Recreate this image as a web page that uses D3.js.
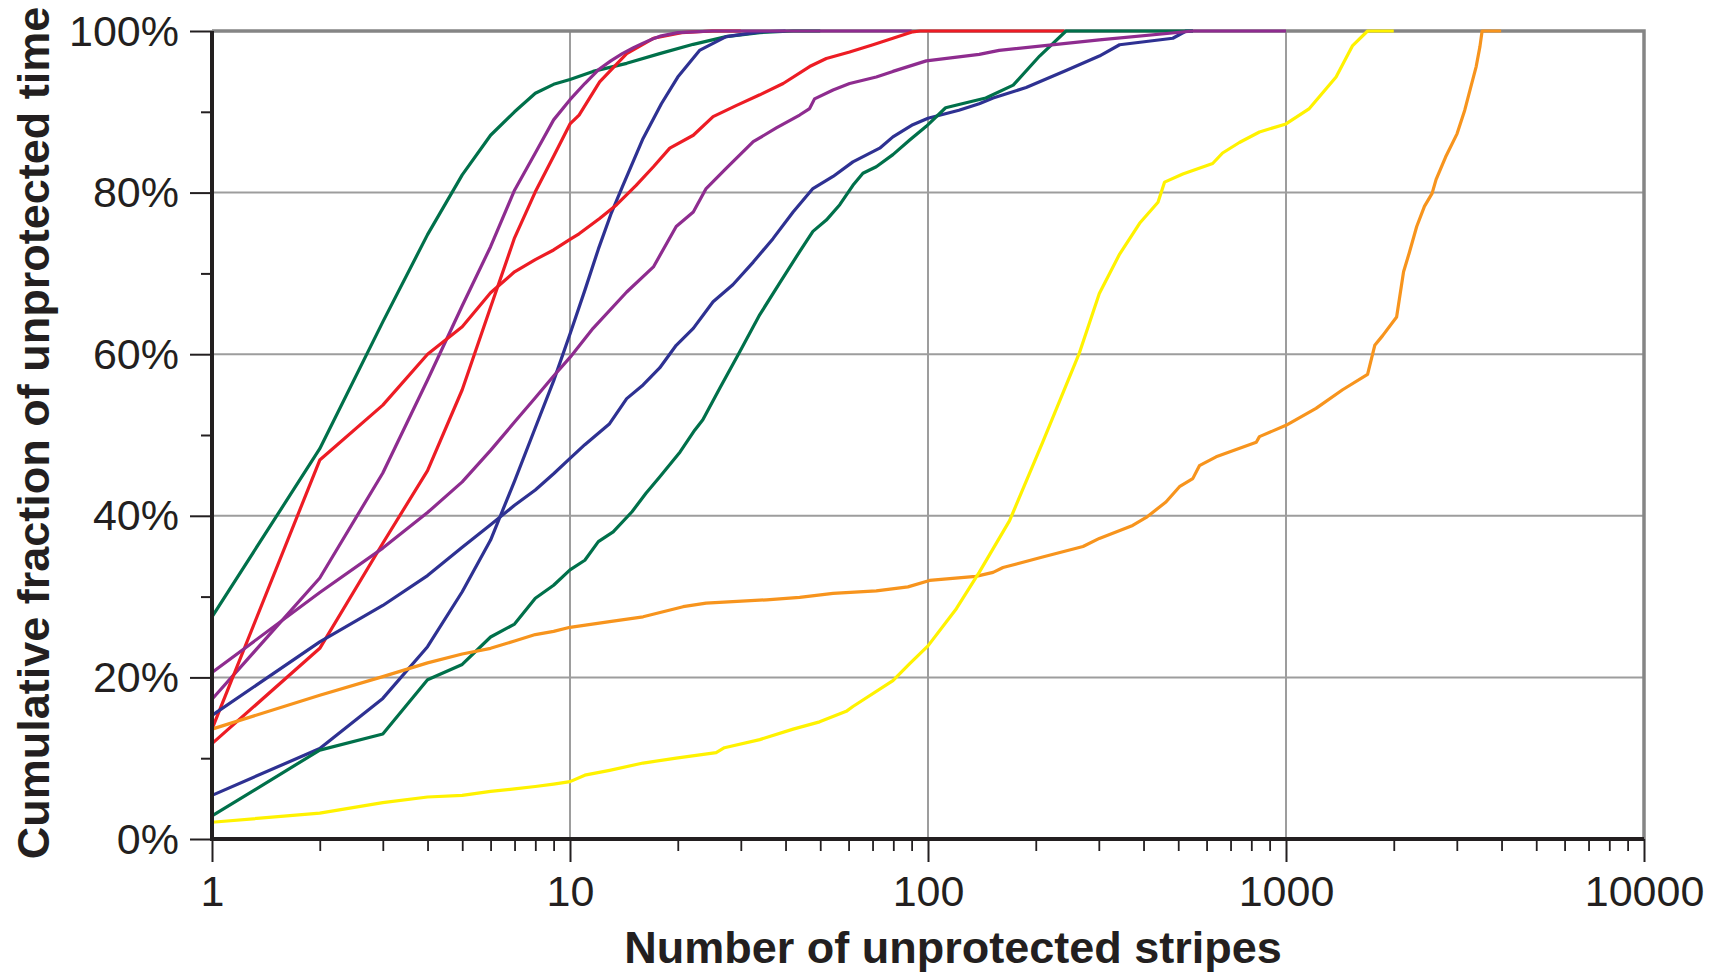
<!DOCTYPE html>
<html>
<head>
<meta charset="utf-8">
<script src="https://cdn.jsdelivr.net/npm/d3@7"></script>
<style>
  html, body { margin: 0; padding: 0; background: #fff; }
  svg { display: block; }
  text { font-family: "Liberation Sans", Arial, Helvetica, sans-serif; fill: #231f20; }
</style>
</head>
<body>
<svg id="chart" width="1719" height="978"></svg>
<script>
// ---------- DATA ----------
const xMajorTicks = [1, 10, 100, 1000, 10000];
const yMajorTicks = [0, 20, 40, 60, 80, 100];
const yMinorTicks = [10, 30, 50, 70, 90];
const xTitle = "Number of unprotected stripes";
const yTitle = "Cumulative fraction of unprotected time";

// each series: [number of unprotected stripes, cumulative %]
const greenFast = [[1,27.5],[2,48.3],[3,64],[4,74.8],[5,82.2],[6,87.1],[7,90],[8,92.3],[9,93.4],[10,94],[11.6,95],[14.4,96],[17.8,97.2],[22.1,98.35],[27.3,99.3],[33.9,99.8],[42,100],[50,100]];
const blueSteep = [[1,5.4],[2,11.2],[3,17.4],[4,23.8],[5,30.6],[6,37],[7,44.3],[8,50.9],[9,56.7],[10,62.5],[11,67.9],[12,73],[13,77.3],[14,80.7],[16,86.7],[18,91],[20,94.3],[23,97.6],[27.3,99.3],[33.9,99.9],[40,100]];
const redSteep = [[1,11.8],[2,23.6],[3,36.6],[4,45.6],[5,55.6],[6,65.8],[7,74.4],[8,80.1],[9,84.5],[10,88.5],[10.6,89.6],[12.1,93.7],[14.4,97.2],[17.1,99.1],[20.5,99.8],[25,100],[30,100]];
const purpleFast = [[1,17.3],[2,32.3],[3,45.3],[4,56.8],[5,66],[6,73.3],[7,80.3],[8,84.9],[9,89],[10,91.5],[11,93.5],[12,95.2],[13,96.3],[14,97.2],[15,97.9],[16,98.5],[17,99],[18,99.4],[20,99.8],[25,100],[90,100]];
const redSlow = [[1,13.6],[2,46.9],[3,53.7],[4,60],[5,63.4],[6,67.6],[7,70.2],[8,71.7],[9,72.9],[10,74.2],[10.6,74.9],[12.1,76.8],[13.5,78.5],[15.3,80.9],[17.1,83.2],[19,85.5],[22.1,87.1],[25.1,89.4],[29.2,90.8],[33.9,92.1],[39.4,93.5],[46.7,95.6],[52,96.6],[60.4,97.4],[70.2,98.3],[79.8,99.1],[90.7,99.9],[95,100],[240,100]];
const blueSlow = [[1,15.3],[2,24.4],[3,28.9],[4,32.6],[5,36.1],[6,38.9],[7,41.3],[8,43.2],[9,45.2],[10,47.1],[11,48.8],[12.9,51.4],[14.4,54.5],[16,56.2],[17.8,58.3],[19.8,61.1],[22.1,63.2],[25.1,66.5],[28.5,68.6],[32.5,71.4],[36.9,74.3],[42,77.6],[47.7,80.5],[54.3,82],[61.7,83.8],[73.3,85.5],[79.8,86.9],[90.7,88.4],[100,89.2],[122,90.2],[139,91],[152,91.7],[188,93],[243,95.1],[301,96.9],[343,98.3],[483,99.1],[526,100],[550,100]];
const greenSlow = [[1,2.85],[2,11],[3,13],[4,19.7],[5,21.6],[6,25],[7,26.6],[8,29.8],[9,31.4],[10,33.3],[11,34.5],[12,36.8],[13.2,38],[14.9,40.5],[16.3,42.8],[17.8,44.8],[20.3,47.9],[22.3,50.6],[23.5,51.9],[26.2,55.8],[29.8,60.3],[33.9,64.9],[38.5,68.8],[43.8,72.7],[47.7,75.2],[52,76.6],[56.7,78.5],[61.7,80.9],[65.8,82.4],[71.7,83.2],[79.8,84.7],[88.9,86.5],[98.9,88.2],[112,90.5],[122,90.9],[145,91.7],[173,93.3],[205,96.9],[243,100],[550,100]];
const purpleSlow = [[1,20.6],[2,30.5],[3,36],[4,40.4],[5,44.2],[6,48.1],[7,51.6],[8,54.6],[9,57.3],[10,59.6],[11.6,63.2],[14.4,67.7],[17.1,70.8],[19.8,75.8],[22.1,77.6],[24,80.5],[27.3,83],[32.5,86.3],[37.7,88],[43.8,89.6],[46.7,90.4],[48.2,91.6],[54.3,92.7],[60.4,93.5],[71.7,94.3],[79.8,95],[98.9,96.3],[139,97.1],[158,97.6],[301,98.9],[550,100],[1000,100]];
const orangeSeries = [[1,13.6],[2,17.8],[3,20.1],[4,21.8],[5,22.9],[6,23.6],[7,24.5],[8,25.3],[9,25.7],[10,26.2],[12.9,26.9],[16,27.5],[20.7,28.75],[24,29.2],[35.4,29.6],[43.8,29.9],[54.3,30.4],[71.7,30.7],[87.9,31.2],[101,32],[136,32.5],[152,33],[162,33.6],[209,34.9],[271,36.2],[301,37.2],[373,38.8],[407,39.8],[462,41.7],[504,43.6],[549,44.6],[573,46.2],[638,47.3],[826,49.1],[843,49.8],[1000,51.2],[1213,53.3],[1439,55.6],[1690,57.5],[1770,61.1],[1862,62.3],[2037,64.6],[2130,70.2],[2208,72.5],[2318,75.8],[2436,78.3],[2559,79.9],[2625,81.6],[2791,84.4],[3006,87.3],[3157,90.2],[3275,92.9],[3398,95.6],[3482,98.1],[3530,100],[3990,100]];
const yellowSeries = [[1,2.07],[2,3.2],[3,4.5],[4,5.2],[5,5.4],[6,5.9],[7,6.2],[8,6.5],[9,6.8],[10,7.1],[11,7.9],[12.9,8.5],[16,9.4],[19.8,10],[25.6,10.7],[27,11.3],[33.9,12.3],[42,13.6],[49.8,14.5],[59.1,15.8],[61.7,16.4],[79.8,19.6],[88.9,21.7],[100,23.9],[120,28.5],[139,33],[169,39.4],[209,49.1],[265,60.2],[301,67.5],[343,72.4],[390,76.2],[439,78.8],[458,81.3],[515,82.3],[624,83.6],[665,84.9],[741,86.2],[843,87.5],[1000,88.5],[1162,90.4],[1380,94.3],[1535,98.2],[1690,100],[2000,100]];

const seriesList = [greenFast, blueSteep, redSteep, purpleFast, redSlow, blueSlow, greenSlow, purpleSlow, orangeSeries, yellowSeries];
const seriesColors = ["#00704a", "#2e3192", "#ed1c24", "#8e2c8f", "#ed1c24", "#2e3192", "#00704a", "#8e2c8f", "#f7941d", "#fff200"];

// ---------- LAYOUT ----------
const L = 212, R = 1644, T = 31, B = 839;
const svg = d3.select("#chart");
const x = d3.scaleLog().domain([1, 10000]).range([L, R]);
const y = d3.scaleLinear().domain([0, 100]).range([B, T]);

// gridlines
const grid = svg.append("g");
grid.selectAll("line.h").data(yMajorTicks.filter(d => d > 0 && d < 100)).join("line")
  .attr("x1", L).attr("x2", R).attr("y1", d => y(d)).attr("y2", d => y(d))
  .attr("stroke", "#9d9d9d").attr("stroke-width", 2);
grid.selectAll("line.v").data(xMajorTicks.filter(d => d > 1 && d < 10000)).join("line")
  .attr("x1", d => x(d)).attr("x2", d => x(d)).attr("y1", T).attr("y2", B)
  .attr("stroke", "#9d9d9d").attr("stroke-width", 2);

// grey frame (top & right)
svg.append("path")
  .attr("d", `M${L},${T}H${R}V${B}`)
  .attr("fill", "none").attr("stroke", "#858585").attr("stroke-width", 3.5);

// lines
const line = d3.line().x(d => x(d[0])).y(d => y(d[1]));
svg.append("g").selectAll("path").data(seriesList).join("path")
  .attr("d", line)
  .attr("fill", "none")
  .attr("stroke", (d, i) => seriesColors[i])
  .attr("stroke-width", 3.2)
  .attr("stroke-linejoin", "round");

// x axis: minor ticks
const xMinor = [];
for (let p = 1; p < 10000; p *= 10) for (let k = 2; k <= 9; k++) xMinor.push(p * k);
svg.append("g").attr("transform", `translate(0,${B})`)
  .call(d3.axisBottom(x).tickValues(xMinor).tickSize(12).tickFormat(""))
  .call(g => g.select(".domain").remove())
  .call(g => g.selectAll("line").attr("stroke", "#231f20").attr("stroke-width", 1.8));

// x axis: major ticks + labels
svg.append("g").attr("transform", `translate(0,${B})`)
  .call(d3.axisBottom(x).tickValues(xMajorTicks).tickSize(23).tickFormat(d3.format("d")))
  .call(g => g.select(".domain").remove())
  .call(g => g.selectAll("line").attr("stroke", "#231f20").attr("stroke-width", 2))
  .call(g => g.selectAll("text").attr("y", 67).attr("dy", null)
    .style("font-size", "43px").attr("fill", "#231f20"));

// y axis: minor ticks
svg.append("g").attr("transform", `translate(${L},0)`)
  .call(d3.axisLeft(y).tickValues(yMinorTicks).tickSize(11).tickFormat(""))
  .call(g => g.select(".domain").remove())
  .call(g => g.selectAll("line").attr("stroke", "#231f20").attr("stroke-width", 2));

// y axis: major ticks + labels
svg.append("g").attr("transform", `translate(${L},0)`)
  .call(d3.axisLeft(y).tickValues(yMajorTicks).tickSize(22).tickFormat(d => d + "%"))
  .call(g => g.select(".domain").remove())
  .call(g => g.selectAll("line").attr("stroke", "#231f20").attr("stroke-width", 2))
  .call(g => g.selectAll("text").attr("x", -33).attr("dy", null).attr("y", 14)
    .style("font-size", "43px").attr("fill", "#231f20"));

// black axis lines (left & bottom)
svg.append("path")
  .attr("d", `M${L},${T}V${B}H${R}`)
  .attr("fill", "none").attr("stroke", "#231f20").attr("stroke-width", 4);

// titles
svg.append("text")
  .attr("x", (L + R) / 2 - 0.5 * (R - L) * 0 + 0).attr("x", 953).attr("y", 963)
  .attr("text-anchor", "middle")
  .style("font-size", "45px").style("font-weight", "bold")
  .text(xTitle);

svg.append("text")
  .attr("transform", "translate(49,433) rotate(-90)")
  .attr("text-anchor", "middle")
  .style("font-size", "45px").style("font-weight", "bold")
  .text(yTitle);
</script>
</body>
</html>
